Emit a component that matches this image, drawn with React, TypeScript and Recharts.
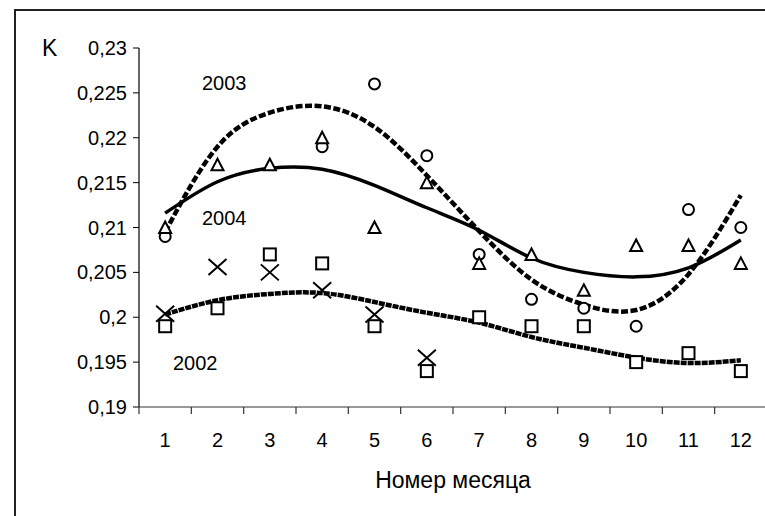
import { ComposedChart, Line, Scatter, XAxis, YAxis } from 'recharts';

const months = [1, 2, 3, 4, 5, 6, 7, 8, 9, 10, 11, 12];
const circles2003 = [0.209, null, null, 0.219, 0.226, 0.218, 0.207, 0.202, 0.201, 0.199, 0.212, 0.21];
const triangles2004 = [0.21, 0.217, 0.217, 0.22, 0.21, 0.215, 0.206, 0.207, 0.203, 0.208, 0.208, 0.206];
const squares2002 = [0.199, 0.201, 0.207, 0.206, 0.199, 0.194, 0.2, 0.199, 0.199, 0.195, 0.196, 0.194];
const crosses = [0.2004, 0.2056, 0.205, 0.203, 0.2003, 0.1955, null, null, null, null, null, null];
const trend2003 = [0.2095, 0.219, 0.2228, 0.2235, 0.2212, 0.2158, 0.2096, 0.2042, 0.2014, 0.2008, 0.2048, 0.2136];
const trend2004 = [0.2116, 0.2151, 0.2166, 0.2165, 0.2147, 0.2122, 0.2097, 0.2066, 0.205, 0.2045, 0.2055, 0.2086];
const trend2002 = [0.2003, 0.2019, 0.2026, 0.2027, 0.2017, 0.2005, 0.1994, 0.1978, 0.1966, 0.1955, 0.1949, 0.1952];
const yTicks = [0.19, 0.195, 0.2, 0.205, 0.21, 0.215, 0.22, 0.225, 0.23];

const rows = months.map((m, i) => ({
  month: m,
  c2003: circles2003[i],
  t2004: triangles2004[i],
  s2002: squares2002[i],
  cross: crosses[i],
  tr2003: trend2003[i],
  tr2004: trend2004[i],
  tr2002: trend2002[i],
}));

const FONT = "'Liberation Sans', Arial, sans-serif";
const INK = '#000';

const CHART_W = 770;
const CHART_H = 516;
const Y_AXIS_W = 139;
const MARGIN = { top: 48, right: 3, left: 0, bottom: 49 };
const X_AXIS_H = 60;
const LABEL_GAP = 26;
const PLOT_W = CHART_W - Y_AXIS_W - MARGIN.right;
const AXIS_Y = CHART_H - MARGIN.bottom - X_AXIS_H;
const BAND = PLOT_W / months.length;

const hidden = (p: any, key: string) =>
  p.cy == null || Number.isNaN(p.cy) || p.payload == null || p.payload[key] == null;

const circleShape = (p: any) =>
  hidden(p, 'c2003') ? <g /> : (
    <circle cx={p.cx} cy={p.cy} r={5.5} fill="#fff" stroke={INK} strokeWidth={2} />
  );

const triangleShape = (p: any) =>
  hidden(p, 't2004') ? <g /> : (
    <path
      d={`M${p.cx},${p.cy - 6} L${p.cx + 6},${p.cy + 5.5} L${p.cx - 6},${p.cy + 5.5} Z`}
      fill="#fff"
      stroke={INK}
      strokeWidth={2}
    />
  );

const squareShape = (p: any) =>
  hidden(p, 's2002') ? <g /> : (
    <rect x={p.cx - 6} y={p.cy - 6} width={12} height={12} fill="#fff" stroke={INK} strokeWidth={2} />
  );

const crossShape = (p: any) =>
  hidden(p, 'cross') ? <g /> : (
    <path
      d={`M${p.cx - 9},${p.cy - 8} L${p.cx + 9},${p.cy + 8} M${p.cx + 9},${p.cy - 8} L${p.cx - 9},${p.cy + 8}`}
      stroke={INK}
      strokeWidth={2}
      fill="none"
    />
  );

const fmt = (v: number) => String(+v.toFixed(3)).replace('.', ',');

export default function App() {
  return (
    <div
      style={{
        position: 'absolute',
        left: 0,
        top: 0,
        width: 765,
        height: 516,
        overflow: 'hidden',
        fontFamily: FONT,
      }}
    >
      {/* frame of the chart, right and bottom edges fall outside the picture */}
      <div
        style={{
          position: 'absolute',
          left: 14,
          top: 9,
          width: 820,
          height: 620,
          border: '2px solid #222',
        }}
      />
      <div style={{ position: 'absolute', left: 0, top: 0 }}>
        <ComposedChart width={CHART_W} height={CHART_H} data={rows} margin={MARGIN}>
          <YAxis
            type="number"
            domain={[0.19, 0.23]}
            ticks={yTicks}
            interval={0}
            width={Y_AXIS_W}
            tickFormatter={fmt}
            tickSize={6}
            tickMargin={6}
            axisLine={{ stroke: INK, strokeWidth: 1.2 }}
            tickLine={{ stroke: INK }}
            tick={{ fill: INK, fontSize: 20, fontFamily: FONT }}
          />
          <XAxis
            dataKey="month"
            type="number"
            domain={[0.5, 12.5]}
            ticks={months}
            interval={0}
            height={X_AXIS_H}
            axisLine={{ stroke: '#333', strokeWidth: 1.2 }}
            tickLine={false}
            tickSize={0}
            tickMargin={LABEL_GAP}
            tick={{ fill: INK, fontSize: 20, fontFamily: FONT }}
          />
          <Line
            dataKey="tr2003"
            type="natural"
            stroke={INK}
            strokeWidth={4.5}
            strokeDasharray="7 2.5"
            dot={false}
            isAnimationActive={false}
          />
          <Line
            dataKey="tr2004"
            type="natural"
            stroke={INK}
            strokeWidth={3.5}
            dot={false}
            isAnimationActive={false}
          />
          <Line
            dataKey="tr2002"
            type="natural"
            stroke={INK}
            strokeWidth={4.5}
            strokeDasharray="6 1"
            dot={false}
            isAnimationActive={false}
          />
          <Scatter dataKey="cross" shape={crossShape} isAnimationActive={false} />
          <Scatter dataKey="s2002" shape={squareShape} isAnimationActive={false} />
          <Scatter dataKey="c2003" shape={circleShape} isAnimationActive={false} />
          <Scatter dataKey="t2004" shape={triangleShape} isAnimationActive={false} />
        </ComposedChart>
      </div>
      <svg
        width={765}
        height={516}
        style={{ position: 'absolute', left: 0, top: 0, pointerEvents: 'none' }}
        fontFamily={FONT}
        fill={INK}
      >
        {/* Excel-style tick marks on the band edges between months */}
        {[0, ...months].map((k) => (
          <line
            key={k}
            x1={Y_AXIS_W + k * BAND}
            x2={Y_AXIS_W + k * BAND}
            y1={AXIS_Y}
            y2={AXIS_Y + 7}
            stroke="#333"
            strokeWidth={1.2}
          />
        ))}
        <text x={42} y={56} fontSize={23}>K</text>
        <text x={202} y={90} fontSize={20}>2003</text>
        <text x={202} y={225} fontSize={20}>2004</text>
        <text x={173} y={370} fontSize={20}>2002</text>
        <text x={453} y={488} fontSize={23} textAnchor="middle">Номер месяца</text>
      </svg>
    </div>
  );
}
